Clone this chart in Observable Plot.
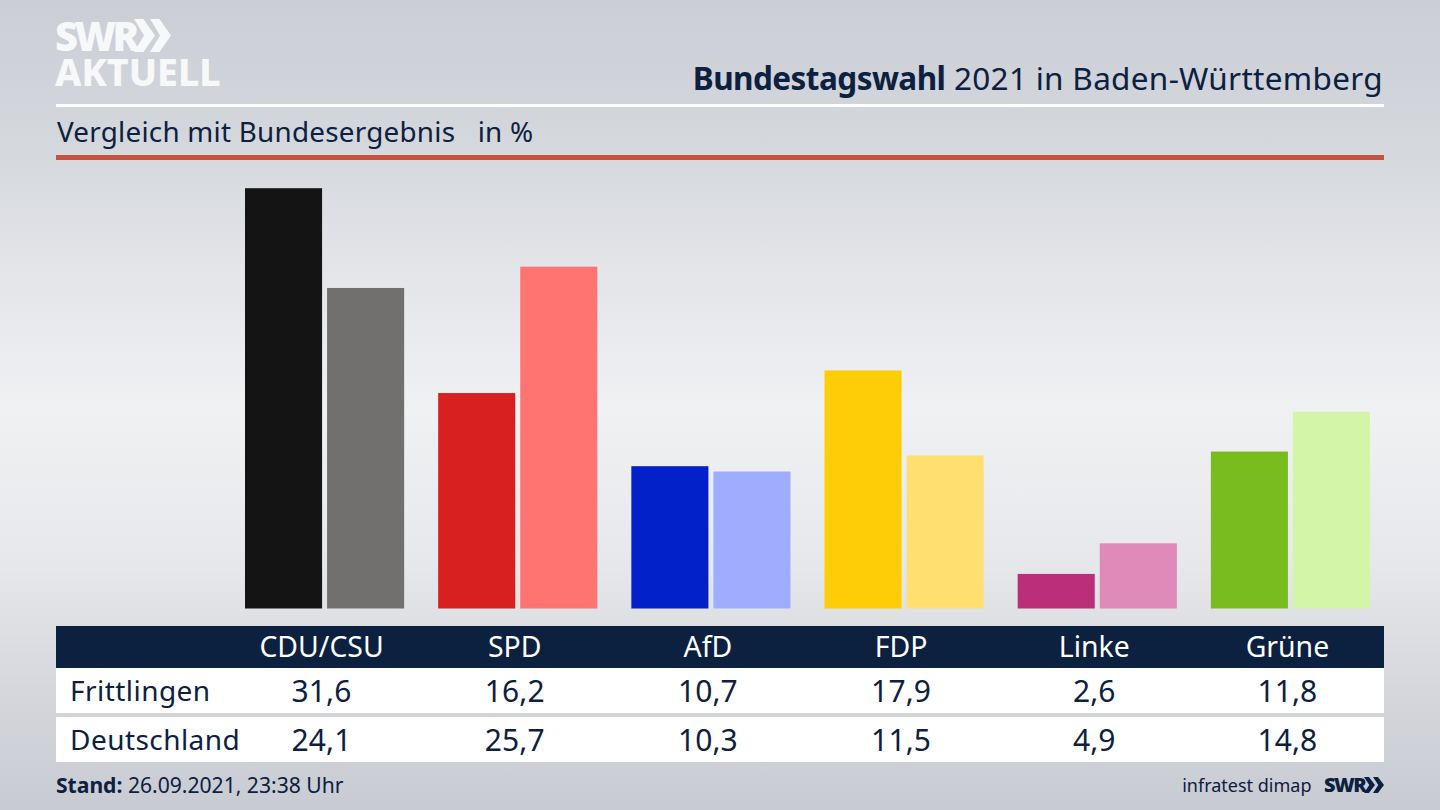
<!DOCTYPE html>
<html lang="de">
<head>
<meta charset="utf-8">
<script src="https://cdn.jsdelivr.net/npm/d3@7"></script>
<script src="https://cdn.jsdelivr.net/npm/@observablehq/plot@0.6"></script>
<style>
html,body{margin:0;padding:0}
body{width:1440px;height:810px;overflow:hidden;position:relative;font-family:"Noto Sans",sans-serif;color:#0c2040;
background:linear-gradient(to bottom,#cbced5 0,#d3d6db 130px,#e2e4e8 260px,#eff1f3 410px,#e6e8eb 560px,#d5d7dc 690px,#c8cbd2 810px)}
.abs{position:absolute;white-space:nowrap}
#chart{position:absolute;left:0;top:0}
#chart svg{background:transparent;display:block}
.rule{position:absolute;left:56px;width:1328px}
.row{position:absolute;left:56px;width:1328px}
.cell{position:absolute;transform:translateX(-50%);white-space:nowrap;font-size:30px;letter-spacing:.1px}
.cell.h{font-size:28.4px;letter-spacing:0}
.rowlabel{position:absolute;left:14px;font-size:28px;white-space:nowrap;letter-spacing:.45px}
.chev{position:absolute;clip-path:polygon(0 0,45% 0,100% 50%,45% 100%,0 100%,48% 50%)}
</style>
</head>
<body>
<div class="abs" style="left:55px;top:18px;font-size:40px;font-weight:900;color:#f7f8f9;line-height:36px;letter-spacing:-3.6px">SWR</div>
<div class="chev" style="left:134px;top:19px;width:21px;height:33px;background:#f7f8f9"></div>
<div class="chev" style="left:150px;top:19px;width:21px;height:33px;background:#f7f8f9"></div>
<div class="abs" style="left:55px;top:54px;font-size:37.5px;font-weight:800;color:#f7f8f9;line-height:36px">AKTUELL</div>

<div class="abs" id="title" style="right:57px;top:57px;font-size:31.5px;line-height:42px;letter-spacing:.3px"><b style="letter-spacing:-.55px">Bundestagswahl</b> 2021 in Baden-Württemberg</div>
<div class="rule" style="top:104px;height:3px;background:#fff"></div>
<div class="abs" id="sub" style="left:57px;top:111px;font-size:27.8px;line-height:40px;white-space:pre;letter-spacing:.25px">Vergleich mit Bundesergebnis   in %</div>
<div class="rule" style="top:155px;height:5px;background:#c4523c"></div>

<div id="chart"></div>

<div class="row" style="top:626px;height:42px;background:#0c2040" id="head"></div>
<div class="row" style="top:668px;height:45px;background:#fff" id="r0"></div>
<div class="row" style="top:717px;height:45px;background:#fff" id="r1"></div>

<div class="abs" style="left:56px;top:770px;font-size:21.1px;line-height:30px"><b>Stand:</b> 26.09.2021, 23:38 Uhr</div>
<div class="abs" style="right:128.5px;top:770px;font-size:18px;line-height:30px">infratest dimap</div>
<div class="abs" style="left:1324px;top:770px;font-size:20px;font-weight:900;line-height:30px;letter-spacing:-1.5px">SWR</div>
<div class="chev" style="left:1364px;top:777px;width:11px;height:16px;background:#0c2040"></div>
<div class="chev" style="left:1373px;top:777px;width:11px;height:16px;background:#0c2040"></div>

<script>
const parties = ["CDU/CSU","SPD","AfD","FDP","Linke","Grüne"];
const regions = ["Frittlingen","Deutschland"];
const frittlingen = [31.6,16.2,10.7,17.9,2.6,11.8];
const deutschland = [24.1,25.7,10.3,11.5,4.9,14.8];
const colorsFrittlingen = ["#141414","#d7201f","#0221c8","#ffcc08","#bb2f78","#78bc1e"];
const colorsDeutschland = ["#72706e","#ff7370","#9fadff","#fedf70","#df8ab8","#d2f5a8"];

const rows = parties.flatMap((party,i)=>[
  {party,region:regions[0],value:frittlingen[i],color:colorsFrittlingen[i]},
  {party,region:regions[1],value:deutschland[i],color:colorsDeutschland[i]}
]);

const plot = Plot.plot({
  width:1440,height:620,
  marginTop:0,marginBottom:11.5,marginLeft:245,marginRight:70,
  fx:{domain:parties,axis:null,paddingInner:34/193,paddingOuter:0,round:false},
  x:{domain:regions,axis:null,paddingInner:5/82,paddingOuter:0,round:false},
  y:{domain:[0,608.5/13.3],axis:null},
  marks:[
    Plot.barY(rows,{fx:"party",x:"region",y:"value",fill:d=>d.color})
  ]
});
document.getElementById("chart").append(plot);

const fx = plot.scale("fx");
const fmt = v => v.toFixed(1).replace(".",",");
function cell(parent,text,x,top,color,cls){
  const d=document.createElement("div");
  d.className="cell"+(cls?" "+cls:"");d.textContent=text;
  d.style.left=(x-56)+"px";d.style.top=top+"px";d.style.lineHeight="42px";
  if(color)d.style.color=color;
  parent.append(d);
}
function label(parent,text){
  const d=document.createElement("div");
  d.className="rowlabel";d.textContent=text;d.style.top="1px";d.style.lineHeight="42px";
  parent.append(d);
}
parties.forEach((p,i)=>{
  const cx=fx.apply(p)+fx.bandwidth/2-3;
  cell(document.getElementById("head"),p,cx,-1,"#fff","h");
  cell(document.getElementById("r0"),fmt(frittlingen[i]),cx,2);
  cell(document.getElementById("r1"),fmt(deutschland[i]),cx,2);
});
label(document.getElementById("r0"),regions[0]);
label(document.getElementById("r1"),regions[1]);
</script>
</body>
</html>
